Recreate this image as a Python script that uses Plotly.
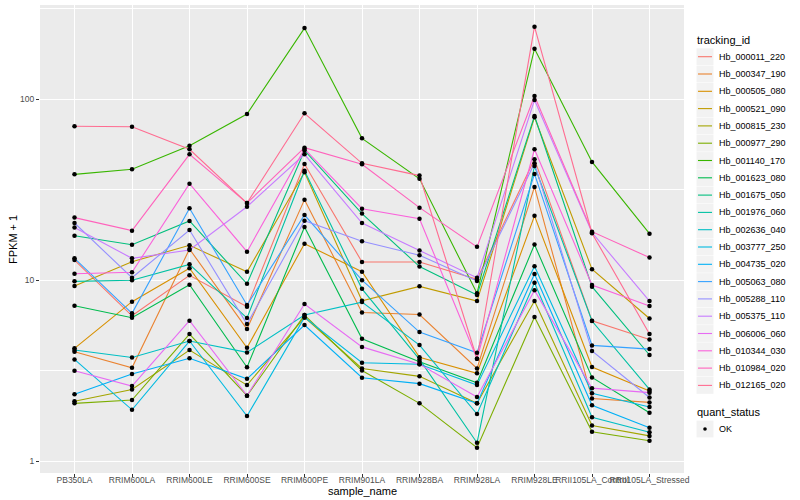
import plotly.graph_objects as go

samples = ["PB350LA", "RRIM600LA", "RRIM600LE", "RRIM600SE", "RRIM600PE", "RRIM901LA",
           "RRIM928BA", "RRIM928LA", "RRIM928LE", "RRII105LA_Control", "RRII105LA_Stressed"]

tracking_ids = ["Hb_000011_220", "Hb_000347_190", "Hb_000505_080", "Hb_000521_090", "Hb_000815_230",
                "Hb_000977_290", "Hb_001140_170", "Hb_001623_080", "Hb_001675_050", "Hb_001976_060",
                "Hb_002636_040", "Hb_003777_250", "Hb_004735_020", "Hb_005063_080", "Hb_005288_110",
                "Hb_005375_110", "Hb_006006_060", "Hb_010344_030", "Hb_010984_020", "Hb_012165_020"]

y_ticks = [1, 10, 100]

# FPKM + 1 per sample (same order as samples)
Hb_000011_220 = [12.93, 6.36, 10.64, 7.14, 43.9, 12.61, 12.61, 10.12, 46.6, 5.97, 4.70]
Hb_000347_190 = [4.02, 3.28, 14.88, 5.37, 27.9, 6.63, 6.46, 3.25, 32.8, 2.22, 2.11]
Hb_000505_080 = [4.20, 7.61, 11.64, 4.23, 15.92, 11.14, 3.75, 3.06, 22.7, 3.31, 2.44]
Hb_000521_090 = [9.29, 12.66, 15.6, 11.14, 39.5, 7.70, 9.25, 7.67, 79.6, 11.5, 6.14]
Hb_000815_230 = [2.14, 2.49, 4.11, 2.63, 6.23, 3.25, 2.94, 2.085, 7.67, 1.572, 1.378]
Hb_000977_290 = [2.085, 2.175, 5.04, 2.30, 6.42, 3.17, 2.085, 1.185, 6.26, 1.452, 1.295]
Hb_001140_170 = [38.5, 41.1, 55.4, 83.0, 248.0, 60.9, 36.4, 8.46, 190.7, 45.1, 18.1]
Hb_001623_080 = [7.23, 6.20, 9.44, 3.30, 19.69, 4.74, 3.54, 2.71, 15.76, 2.90, 1.85]
Hb_001675_050 = [17.63, 15.72, 21.26, 9.56, 52.2, 23.38, 11.9, 8.28, 80.9, 9.21, 3.86]
Hb_001976_060 = [9.86, 9.99, 12.24, 6.18, 40.3, 8.96, 3.65, 1.262, 42.8, 5.95, 2.49]
Hb_002636_040 = [4.11, 3.74, 4.61, 3.99, 6.42, 7.57, 4.38, 1.82, 9.69, 1.745, 1.443]
Hb_003777_250 = [3.65, 1.92, 4.61, 1.774, 6.23, 3.50, 3.43, 2.63, 11.94, 2.37, 1.99]
Hb_004735_020 = [2.34, 3.03, 3.70, 2.85, 5.65, 2.89, 2.68, 2.085, 10.82, 2.035, 1.528]
Hb_005063_080 = [13.22, 6.56, 24.98, 7.29, 22.94, 10.0, 5.17, 3.97, 38.7, 4.36, 4.16]
Hb_005288_110 = [20.72, 10.32, 18.95, 5.72, 21.34, 16.43, 13.73, 9.90, 44.3, 4.06, 2.245]
Hb_005375_110 = [19.56, 13.22, 14.69, 25.5, 49.7, 20.72, 14.6, 10.32, 99.2, 18.35, 7.67]
Hb_006006_060 = [3.16, 2.60, 5.97, 2.30, 7.39, 4.28, 3.43, 2.26, 8.79, 2.53, 2.39]
Hb_010344_030 = [10.87, 11.06, 34.2, 14.38, 53.2, 24.85, 21.9, 3.68, 53.0, 9.41, 7.20]
Hb_010984_020 = [22.2, 18.8, 49.7, 26.7, 54.1, 43.8, 25.2, 15.3, 104.4, 18.55, 13.35]
Hb_012165_020 = [71.0, 70.6, 53.0, 26.7, 83.8, 44.3, 37.9, 3.68, 252.5, 18.2, 5.04]

series = [Hb_000011_220, Hb_000347_190, Hb_000505_080, Hb_000521_090, Hb_000815_230,
          Hb_000977_290, Hb_001140_170, Hb_001623_080, Hb_001675_050, Hb_001976_060,
          Hb_002636_040, Hb_003777_250, Hb_004735_020, Hb_005063_080, Hb_005288_110,
          Hb_005375_110, Hb_006006_060, Hb_010344_030, Hb_010984_020, Hb_012165_020]

colors = ["#F8766D", "#EA8331", "#D89000", "#C09B00", "#A3A500", "#7CAE00", "#39B600", "#00BB4E",
          "#00BF7D", "#00C1A3", "#00BFC4", "#00BAE0", "#00B0F6", "#35A2FF", "#9590FF", "#C77CFF",
          "#E76BF3", "#FA62DB", "#FF62BC", "#FF6C91"]

W, H = 800, 500
ML, MR, MT, MB = 40, 116, 5, 27
PW, PH = W - ML - MR, H - MT - MB


def px_x(px):
    return (px - ML) / PW


def px_y(py):
    return (H - MB - py) / PH


fig = go.Figure()
for tid, vals, col in zip(tracking_ids, series, colors):
    fig.add_trace(go.Scatter(x=samples, y=vals, mode="lines", name=tid,
                             line=dict(color=col, width=1.1), showlegend=False))

all_x = [s for vals in series for s in samples]
all_y = [v for vals in series for v in vals]
fig.add_trace(go.Scatter(x=all_x, y=all_y, mode="markers", name="OK",
                         marker=dict(color="black", size=4.5, symbol="circle"),
                         showlegend=False))

font = "Liberation Sans, Arial, sans-serif"
shapes = []
annotations = []

# manual ggplot-style legend: tracking_id
annotations.append(dict(text="tracking_id", x=px_x(695), y=px_y(40.5), xref="paper", yref="paper",
                        xanchor="left", yanchor="middle", showarrow=False,
                        font=dict(size=11, color="black", family=font)))
step = 17.3
for i, (tid, col) in enumerate(zip(tracking_ids, colors)):
    cy = 56.7 + i * step
    shapes.append(dict(type="rect", xref="paper", yref="paper",
                       x0=px_x(696.5), x1=px_x(713.5), y0=px_y(cy - 8.4), y1=px_y(cy + 8.4),
                       fillcolor="#F2F2F2", line=dict(width=0), layer="above"))
    shapes.append(dict(type="line", xref="paper", yref="paper",
                       x0=px_x(698), x1=px_x(712), y0=px_y(cy), y1=px_y(cy),
                       line=dict(color=col, width=1.1), layer="above"))
    annotations.append(dict(text=tid, x=px_x(716.5), y=px_y(cy), xref="paper", yref="paper",
                            xanchor="left", yanchor="middle", showarrow=False,
                            font=dict(size=9, color="black", family=font)))

# quant_status legend
annotations.append(dict(text="quant_status", x=px_x(695), y=px_y(412.3), xref="paper", yref="paper",
                        xanchor="left", yanchor="middle", showarrow=False,
                        font=dict(size=11, color="black", family=font)))
shapes.append(dict(type="rect", xref="paper", yref="paper",
                   x0=px_x(696.5), x1=px_x(713.5), y0=px_y(429 - 8.4), y1=px_y(429 + 8.4),
                   fillcolor="#F2F2F2", line=dict(width=0), layer="above"))
shapes.append(dict(type="circle", xref="paper", yref="paper",
                   x0=px_x(703.2), x1=px_x(706.8), y0=px_y(430.8), y1=px_y(427.2),
                   fillcolor="black", line=dict(width=0), layer="above"))
annotations.append(dict(text="OK", x=px_x(716.5), y=px_y(429), xref="paper", yref="paper",
                        xanchor="left", yanchor="middle", showarrow=False,
                        font=dict(size=9, color="black", family=font)))

# axis titles
annotations.append(dict(text="sample_name", x=0.5, y=px_y(491), xref="paper", yref="paper",
                        xanchor="center", yanchor="middle", showarrow=False,
                        font=dict(size=11, color="black", family=font)))
annotations.append(dict(text="FPKM + 1", x=px_x(13), y=0.5, xref="paper", yref="paper",
                        xanchor="center", yanchor="middle", showarrow=False, textangle=-90,
                        font=dict(size=11, color="black", family=font)))

fig.update_layout(
    width=W, height=H,
    margin=dict(l=ML, r=MR, t=MT, b=MB, autoexpand=False),
    paper_bgcolor="white", plot_bgcolor="#EBEBEB",
    font=dict(family=font, size=10, color="black"),
    showlegend=False,
    xaxis=dict(type="category", categoryorder="array", categoryarray=samples,
               range=[-0.6, len(samples) - 0.4], showgrid=True, gridcolor="white", gridwidth=1.1,
               ticks="outside", ticklen=3, tickcolor="#333333", tickangle=0,
               tickfont=dict(size=8.5, color="#4D4D4D"), automargin=False,
               ticklabelstandoff=-4,
               zeroline=False, showline=False),
    yaxis=dict(type="log", range=[-0.066, 2.522], tickvals=y_ticks, ticktext=[str(t) for t in y_ticks],
               showgrid=True, gridcolor="white", gridwidth=1.1,
               minor=dict(tickvals=[10 ** 0.5, 10 ** 1.5, 10 ** 2.5], showgrid=True,
                          gridcolor="white", gridwidth=0.5, ticks=""),
               ticks="outside", ticklen=3, tickcolor="#333333",
               tickfont=dict(size=8.5, color="#4D4D4D"), automargin=False,
               zeroline=False, showline=False),
    shapes=shapes,
    annotations=annotations,
)

fig.write_html("out.html", config={"displayModeBar": False},
               post_script="document.body.style.margin='0px';")
